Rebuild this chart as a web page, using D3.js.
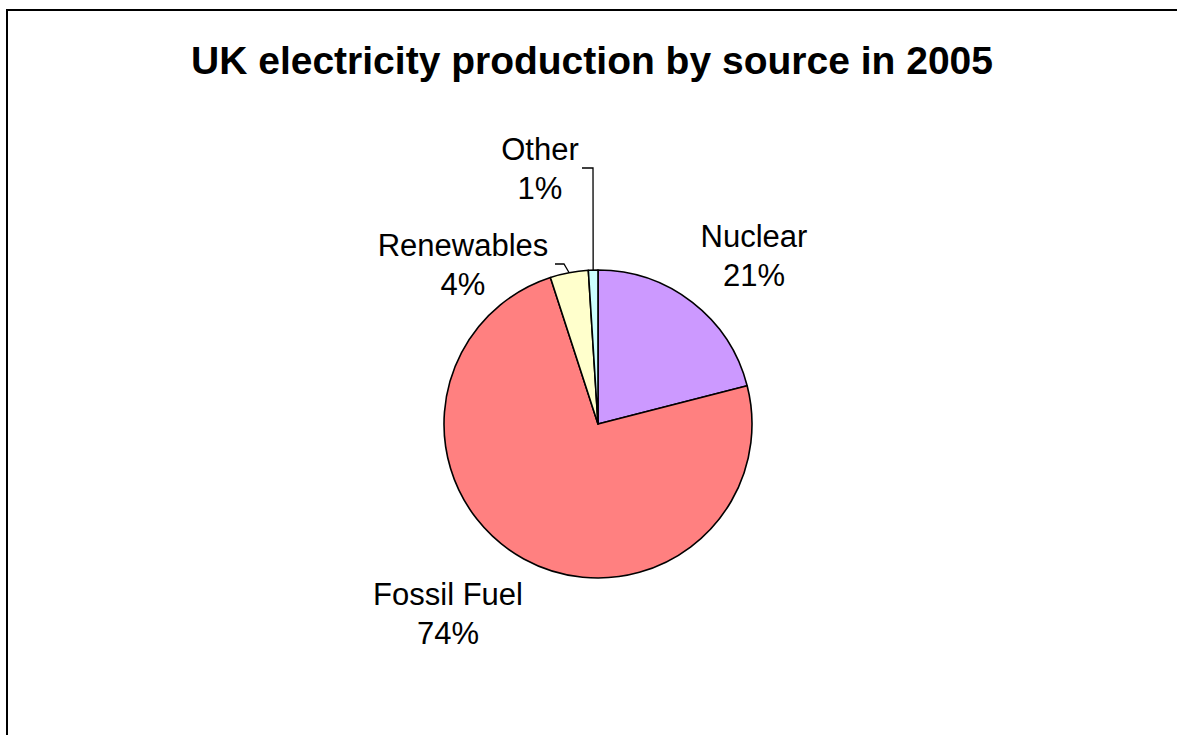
<!DOCTYPE html>
<html>
<head>
<meta charset="utf-8">
<script src="https://cdn.jsdelivr.net/npm/d3@7"></script>
<style>
  html, body { margin: 0; padding: 0; background: #fff; }
  svg { display: block; }
  text { font-family: "Liberation Sans", Arial, sans-serif; fill: #000; }
</style>
</head>
<body>
<svg id="chart" width="1177" height="735"></svg>
<script>
// Source shares of UK electricity production, 2005 (percent)
const sources = ["Nuclear", "Fossil Fuel", "Renewables", "Other"];
const shares = [21, 74, 4, 1];
const sliceColors = ["#CC99FF", "#FF8080", "#FFFFCC", "#CCFFFF"];

const W = 1177, H = 735;
const cx = 598, cy = 424, R = 154;

const svg = d3.select("#chart");

// Chart frame (runs off the right and bottom edges)
svg.append("rect")
  .attr("x", 7).attr("y", 10)
  .attr("width", W + 20).attr("height", H + 20)
  .attr("fill", "#fff").attr("stroke", "#000").attr("stroke-width", 2);

svg.append("text")
  .attr("x", 592).attr("y", 74)
  .attr("text-anchor", "middle")
  .attr("font-size", 39).attr("font-weight", "bold")
  .text("UK electricity production by source in 2005");

const pie = d3.pie().sort(null).value(d => d.value);
const arc = d3.arc().innerRadius(0).outerRadius(R);
const data = sources.map((s, i) => ({ name: s, value: shares[i], color: sliceColors[i] }));
const arcs = pie(data);

const g = svg.append("g").attr("transform", `translate(${cx},${cy})`);
g.selectAll("path.slice")
  .data(arcs)
  .join("path")
  .attr("class", "slice")
  .attr("d", arc)
  .attr("fill", d => d.data.color)
  .attr("stroke", "#000")
  .attr("stroke-width", 1.6)
  .attr("stroke-linejoin", "round");

// Label placement: centre x and first-line baseline
const labelPos = {
  "Nuclear":     [754, 247],
  "Fossil Fuel": [448, 605],
  "Renewables":  [463, 256],
  "Other":       [540, 160]
};

// Leader lines from small slices to their labels
function edgePoint(d) {
  const a = (d.startAngle + d.endAngle) / 2;
  return [cx + R * Math.sin(a), cy - R * Math.cos(a)];
}
const leaders = {
  "Renewables": [[555, 264], [564, 264]],
  "Other":      [[582, 168], [593, 168]]
};
arcs.forEach(d => {
  const pts = leaders[d.data.name];
  if (!pts) return;
  const e = edgePoint(d);
  const path = d3.path();
  path.moveTo(pts[0][0], pts[0][1]);
  path.lineTo(pts[1][0], pts[1][1]);
  path.lineTo(e[0], e[1]);
  svg.append("path")
    .attr("d", path.toString())
    .attr("fill", "none")
    .attr("stroke", "#000")
    .attr("stroke-width", 1.3);
});

arcs.forEach(d => {
  const [x, y] = labelPos[d.data.name];
  const t = svg.append("text")
    .attr("x", x).attr("y", y)
    .attr("text-anchor", "middle")
    .attr("font-size", 31);
  t.append("tspan").attr("x", x).attr("dy", 0).text(d.data.name);
  t.append("tspan").attr("x", x).attr("dy", 39).text(d.data.value + "%");
});
</script>
</body>
</html>
